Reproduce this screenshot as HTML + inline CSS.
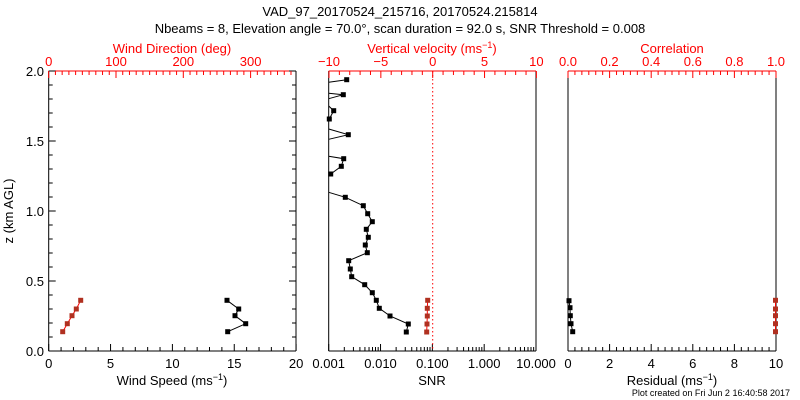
<!DOCTYPE html>
<html><head><meta charset="utf-8"><style>
body{margin:0;background:#fff;}
svg{display:block;font-family:"Liberation Sans",sans-serif;}
</style></head><body>
<svg id="s" width="800" height="400" xmlns="http://www.w3.org/2000/svg">
<text x="400" y="16" font-size="13" text-anchor="middle">VAD_97_20170524_215716, 20170524.215814</text>
<text x="400" y="33" font-size="13" text-anchor="middle">Nbeams = 8, Elevation angle = 70.0°, scan duration = 92.0 s, SNR Threshold = 0.008</text>
<text x="172" y="53" font-size="13" fill="#f00" text-anchor="middle">Wind Direction (deg)</text>
<text x="432" y="53" font-size="13" fill="#f00" text-anchor="middle">Vertical velocity (ms<tspan dy="-5" font-size="9">−1</tspan><tspan dy="5">)</tspan></text>
<text x="672" y="53" font-size="13" fill="#f00" text-anchor="middle">Correlation</text>
<text x="172" y="385" font-size="13" text-anchor="middle">Wind Speed (ms<tspan dy="-5" font-size="9">−1</tspan><tspan dy="5">)</tspan></text>
<text x="432" y="385" font-size="13" text-anchor="middle">SNR</text>
<text x="672" y="385" font-size="13" text-anchor="middle">Residual (ms<tspan dy="-5" font-size="9">−1</tspan><tspan dy="5">)</tspan></text>
<text x="790" y="396" font-size="9" text-anchor="end">Plot created on Fri Jun  2 16:40:58 2017</text>
<text transform="translate(13,211) rotate(-90)" font-size="13" text-anchor="middle">z (km AGL)</text>
<g id="g"></g>
</svg>
<script>
const g=document.getElementById('g');let h='';
const T=71,B=351;
function L(x1,y1,x2,y2,c,w,d){h+=`<line x1="${x1}" y1="${y1}" x2="${x2}" y2="${y2}" stroke="${c||'#000'}" stroke-width="${w||1}"${d?` stroke-dasharray="${d}"`:''}/>`;}
function Tx(x,y,s,c,a){h+=`<text x="${x}" y="${y}" font-size="13" fill="${c||'#000'}" text-anchor="${a||'middle'}">${s}</text>`;}
function box(l,r){L(l,B,r,B);L(l,T,l,B);L(r,T,r,B);L(l,T,r,T,'#f00');}
const P=[[48.7,296],[328.7,536],[568,776]];
P.forEach(p=>box(p[0],p[1]));
for(let i=0;i<=20;i++){let y=B-i*14,len=i%5==0?7:4;L(48.7,y,48.7+len,y);L(296-len,y,296,y);}
['0.0','0.5','1.0','1.5','2.0'].forEach((s,i)=>Tx(44,B-i*70+5,s,'#000','end'));
for(let i=0;i<=20;i++){let x=48.7+i*12.37,len=i%5==0?7:4;L(x,B,x,B-len);}
[0,5,10,15,20].forEach(v=>Tx(48.7+v*12.37,368,v));
for(let d=0;d<=360;d+=10){let x=48.7+d*0.673;if(x>296)break;let len=d%100==0?7:4;L(x,T,x,T+len,'#f00');}
[0,100,200,300].forEach(v=>Tx(48.7+v*0.673,66,v,'#f00'));
for(let v=-10;v<=10;v++){let x=432.7+v*10.37,len=v%5==0?7:4;L(x,T,x,T+len,'#f00');}
[-10,-5,0,5,10].forEach(v=>Tx(432.7+v*10.37,66,v<0?'−'+(-v):v,'#f00'));
for(let d=0;d<4;d++){for(let k=1;k<10;k++){let x=328.7+(d+Math.log10(k))*51.83;L(x,B,x,B-(k==1?7:4));}}
L(536,B,536,B-7);
['0.001','0.010','0.100','1.000','10.000'].forEach((s,i)=>Tx(328.7+i*51.83,368,s));
L(432.7,T,432.7,B,'#f00',1,'1.5,2.5');
for(let i=0;i<=30;i++){let x=568+i*6.933,len=i%6==0?7:4;L(x,T,x,T+len,'#f00');L(x,B,x,B-len);}
['0.0','0.2','0.4','0.6','0.8','1.0'].forEach((s,i)=>Tx(568+i*41.6,66,s,'#f00'));
[0,2,4,6,8,10].forEach((s,i)=>Tx(568+i*41.6,368,s));
function line(pts,c,mk){h+=`<polyline fill="none" stroke="${c}" points="${pts.map(p=>p[0]+','+p[1]).join(' ')}"/>`;if(mk)pts.forEach(p=>{if(p[2]!==0)h+=`<rect x="${p[0]-2.5}" y="${p[1]-2.5}" width="5" height="5" fill="${mk}"/>`;});}
const ys=[331.7,323.7,315.7,309,300.3];
line([[62.7,331.7],[67.3,323.7],[72,315.7],[76.3,309],[80.7,300.3]],'#f00','#b03020');
line([[227.7,331.7],[245.7,323.7],[235,315.7],[238.7,309],[227,300.3]],'#000','#000');
line([[346.7,79.7],[328.7,82.3,0]],'#000','#000');
line([[328.7,93.3,0],[343.3,94.7],[328.7,98.7,0]],'#000','#000');
line([[328.7,106,0],[333.7,110.7],[329.3,119],[328.7,121,0]],'#000','#000');
line([[328.7,129,0],[348.3,134.7],[328.7,139.3,0]],'#000','#000');
line([[328.7,156.3,0],[343.7,158.7],[341.3,166.3],[330.7,174]],'#000','#000');
line([[328.7,192.3,0],[345.3,197.3],[363.3,205.7],[367.7,213.7],[372.3,221.7],[366.3,229.3],[368.3,237.3],[365.3,245],[367.3,252.7],[348.7,260.7],[350.3,269],[351.7,276.7],[364.7,284.7],[372.3,292.7],[376.3,300.3],[379.3,308.3],[390,316],[408.3,324],[406.3,332]],'#000','#000');
line([[427.7,300.3],[427.3,308.3],[427.3,316],[427,324],[426.7,332]],'#f00','#b03020');
line([[569,300.7],[570,307.7],[570.3,315.7],[571,323.7],[572.7,331.7]],'#000','#000');
line(ys.map(y=>[775.5,y]),'#f00','#b03020');
g.innerHTML=h;
</script>
</body></html>
